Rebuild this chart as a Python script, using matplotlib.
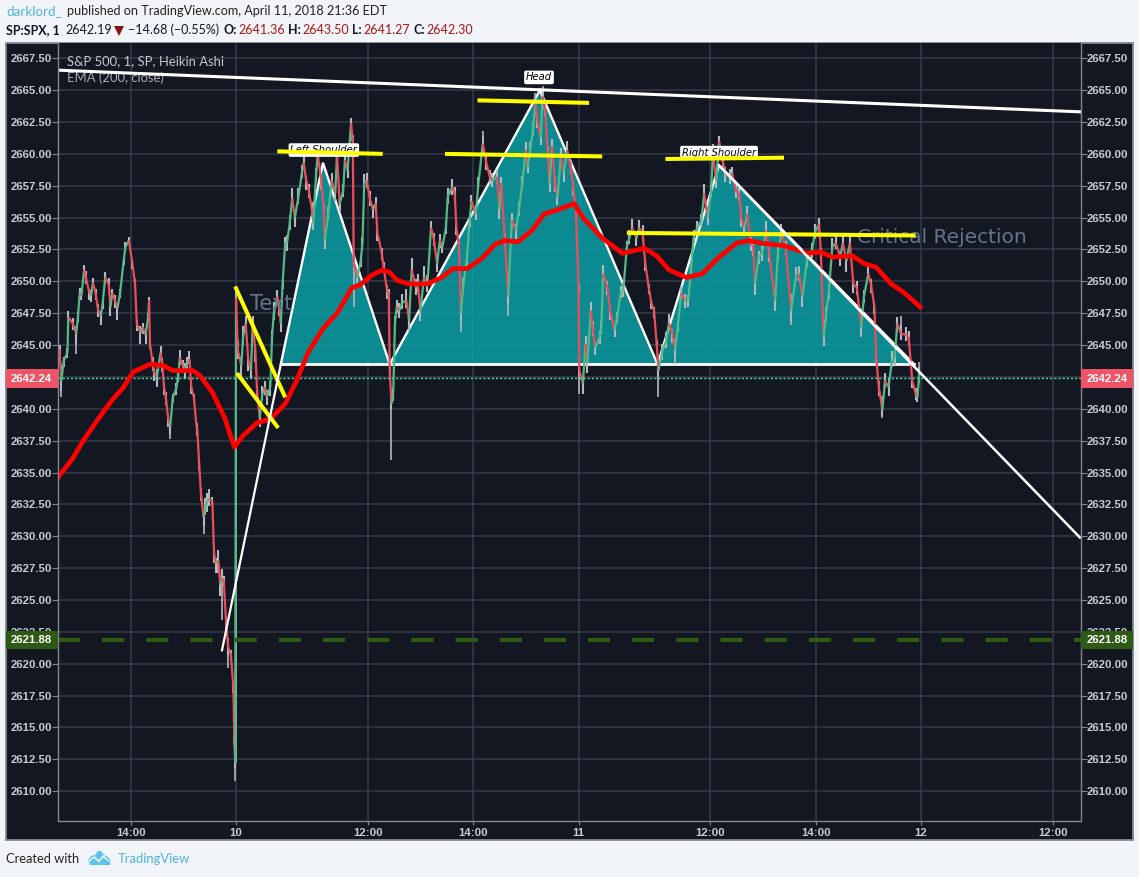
import matplotlib
matplotlib.use("Agg")
import matplotlib.pyplot as plt
from matplotlib.collections import LineCollection
from matplotlib.patches import Rectangle, Polygon
from matplotlib.transforms import blended_transform_factory

# ---------- data (minutes of trading time from the Apr 10 open, prices)
minutes = [-201,-199,-196,-192,-191,-186,-182,-180,-178,-176,-173,-171,-167,-165,-163,-160,-157,-154,-152,-149,
 -145,-143,-141,-138,-135,-132,-128,-126,-122,-118,-115,-113,-109,-106,-103,-100,-99,-98,-95,-93,
 -90,-86,-84,-82,-80,-77,-75,-72,-68,-66,-64,-60,-58,-56,-53,-51,-48,-45,-44,-42,
 -40,-37,-35,-33,-31,-27,-25,-23,-20,-18,-16,-14,-11,-9,-6,-3,-2,-1,0,2,
 6,8,11,14,17,19,22,24,27,30,33,35,39,41,43,47,49,51,53,56,
 58,61,64,67,71,75,77,80,83,86,88,91,93,97,100,101,105,109,113,115,
 118,122,124,127,131,133,134,138,142,144,146,149,152,156,159,161,166,168,172,174,
 175,177,179,181,183,186,189,194,197,200,205,207,210,214,218,222,225,229,232,235,
 239,241,246,249,251,254,256,259,263,266,268,273,276,281,285,289,292,297,300,302,
 306,310,314,319,322,326,330,332,335,338,341,343,347,349,352,355,357,360,363,366,
 370,373,377,381,384,387,390,391,395,398,400,404,406,409,414,416,418,423,426,431,
 434,438,441,445,448,451,456,459,463,466,470,473,476,479,481,485,490,493,497,500,
 503,507,511,515,518,521,525,530,533,537,541,543,547,550,554,557,562,565,569,573,
 575,579,582,586,589,591,595,599,604,607,614,617,621,626,632,638,641,645,650,656,
 659,664,666,669,672,675,679,683,688,691,695,699,703,707,712,715,720,723,727,729,
 732,736,739,743,747,750,753,757,763,766,770,774,776,778]
closes = [2644.7,2642.2,2643.8,2644.4,2647.2,2646.7,2645.9,2647.2,2649.1,2648.9,2650.9,2650.3,2649.1,2648.9,2649.9,2649.1,2647.7,2647.3,2648.2,2650.3,
 2649.8,2648.0,2649.1,2648.5,2647.9,2649.1,2651.6,2652.7,2653.2,2651.4,2649.8,2646.7,2646.0,2646.4,2645.8,2647.2,2648.5,2645.1,2643.6,2642.8,
 2642.5,2644.4,2643.6,2641.7,2640.9,2639.1,2638.6,2640.9,2641.6,2642.5,2644.0,2643.3,2643.0,2643.6,2643.9,2641.7,2640.9,2638.6,2638.3,2635.7,
 2633.4,2631.5,2632.3,2632.8,2632.9,2632.8,2628.6,2627.9,2628.1,2626.2,2626.7,2626.5,2622.9,2621.3,2620.8,2618.1,2614.0,2612.2,2648.7,2644.6,
 2643.4,2645.6,2646.7,2643.8,2643.0,2646.7,2644.6,2641.4,2639.3,2641.2,2641.7,2640.9,2641.7,2645.6,2647.5,2648.8,2648.0,2646.7,2649.8,2653.0,
 2653.0,2654.5,2656.5,2655.0,2656.6,2658.5,2659.3,2657.9,2657.1,2655.8,2654.6,2658.2,2660.0,2657.9,2655.6,2653.2,2655.3,2657.9,2656.9,2660.0,
 2656.1,2657.1,2659.5,2658.7,2662.4,2661.0,2651.4,2650.3,2651.6,2653.0,2657.7,2657.9,2656.6,2655.6,2656.1,2653.8,2652.2,2651.1,2649.3,2649.0,
 2643.0,2640.4,2641.2,2646.7,2648.0,2647.7,2648.3,2648.5,2646.9,2650.9,2649.5,2649.8,2647.7,2650.3,2649.8,2654.2,2653.4,2651.4,2653.2,2652.7,
 2654.2,2656.6,2657.4,2656.9,2654.2,2652.7,2647.5,2649.8,2651.9,2654.8,2656.3,2655.3,2657.7,2660.8,2659.3,2658.2,2657.9,2658.2,2655.6,2657.7,
 2653.4,2648.8,2654.8,2654.0,2655.6,2657.7,2660.3,2659.0,2660.3,2661.9,2664.0,2662.6,2661.3,2664.5,2663.5,2660.1,2657.7,2660.6,2657.7,2656.6,
 2659.8,2658.5,2660.3,2659.0,2657.4,2655.6,2649.5,2643.0,2642.0,2645.1,2643.6,2647.7,2646.4,2644.8,2645.6,2646.4,2650.6,2649.5,2647.7,2646.2,
 2647.2,2649.1,2649.3,2652.7,2653.4,2654.2,2653.4,2654.2,2653.8,2651.4,2649.5,2648.3,2647.7,2645.1,2643.0,2644.4,2645.4,2646.7,2645.9,2644.6,
 2646.4,2649.1,2648.5,2648.5,2650.9,2653.4,2654.2,2654.8,2656.9,2655.0,2657.1,2660.0,2657.9,2661.0,2659.5,2658.5,2658.2,2658.5,2657.1,2656.9,
 2655.0,2654.2,2655.3,2653.0,2652.7,2649.8,2651.9,2652.2,2654.0,2652.2,2648.5,2652.2,2653.8,2652.7,2647.7,2650.6,2650.6,2648.8,2651.6,2652.4,
 2653.8,2654.5,2652.2,2645.6,2647.5,2649.1,2652.7,2653.0,2651.9,2653.0,2651.6,2653.0,2649.8,2649.5,2646.4,2648.8,2650.6,2649.8,2648.0,2644.0,
 2641.7,2639.9,2642.2,2641.7,2643.8,2644.0,2646.7,2645.9,2645.8,2645.6,2642.2,2641.2,2640.9,2642.8]
wick_up = [0.3,0.6,0.3,0.4,0.5,0.4,0.3,0.5,0.4,0.3,0.4,0.5,0.3,0.4,0.4,0.3,0.5,0.4,0.3,0.4,
 0.5,0.4,0.3,0.4,0.3,0.3,0.3,0.4,0.3,0.3,0.4,0.3,0.5,0.3,0.4,0.3,0.3,0.3,0.5,0.4,
 0.6,0.5,0.4,0.3,0.4,0.3,0.4,0.3,0.4,0.4,0.6,0.5,0.6,0.5,0.6,0.4,0.3,0.3,0.3,0.4,
 0.4,0.5,0.7,0.6,0.8,0.3,0.5,0.4,0.8,0.4,0.7,0.4,0.3,0.3,0.3,0.3,0.3,0.3,0.5,0.8,
 0.7,0.9,0.6,0.5,0.4,0.6,0.5,0.4,0.5,0.6,0.5,0.6,0.5,0.6,0.9,0.5,0.4,0.3,0.4,0.5,
 0.6,0.7,0.8,0.6,0.7,0.6,0.5,0.4,0.5,0.4,0.5,0.7,0.8,0.5,0.4,0.5,0.5,0.6,0.5,0.6,
 0.4,0.5,0.6,0.5,0.4,0.5,0.4,0.6,0.5,0.5,0.7,0.6,0.5,0.4,0.5,0.4,0.4,0.4,0.4,0.4,
 0.5,0.5,0.4,0.6,0.5,0.6,0.7,0.9,0.5,0.9,0.7,0.8,0.5,0.9,0.7,0.5,0.4,0.5,0.5,0.4,
 0.5,0.7,0.6,0.5,0.4,0.5,0.4,0.5,0.5,0.6,0.5,0.6,0.5,0.6,0.7,0.5,0.6,0.5,0.6,0.5,
 0.4,0.4,0.6,0.5,0.6,0.6,0.6,0.5,0.6,0.6,0.5,0.5,0.5,0.5,0.4,0.5,0.4,0.6,0.5,0.5,
 0.7,0.5,0.7,0.5,0.4,0.4,0.3,0.3,0.5,0.6,0.6,0.7,0.5,0.4,0.5,0.5,0.7,0.5,0.4,0.3,
 0.4,0.5,0.6,0.5,0.6,0.7,0.5,0.6,0.6,0.4,0.3,0.3,0.3,0.3,0.4,0.7,0.6,0.7,0.4,0.4,
 0.5,0.5,0.5,0.4,0.6,0.6,0.5,0.5,0.7,0.5,0.6,0.8,0.5,0.4,0.4,0.5,0.6,0.5,0.5,0.4,
 0.5,0.4,0.6,0.5,0.5,0.4,0.5,0.6,0.7,0.5,0.4,0.6,0.7,0.5,0.3,0.5,0.6,0.5,0.6,0.6,
 0.7,0.5,0.4,0.3,0.5,0.6,0.7,0.6,0.5,0.6,0.5,0.6,0.4,0.5,0.4,0.5,0.6,0.4,0.4,0.3,
 0.5,0.4,0.6,0.6,0.7,0.6,0.5,0.7,0.6,0.5,0.4,0.4,0.4,0.5]
wick_dn = [0.4,0.8,0.5,0.4,0.5,0.5,0.8,0.4,0.5,0.4,0.5,0.5,0.6,0.5,0.4,0.6,0.5,0.7,0.4,0.5,
 0.5,0.7,0.4,0.6,0.9,0.4,0.3,0.4,0.3,0.4,0.3,0.6,0.9,0.5,0.7,0.4,0.3,0.4,0.6,0.6,
 0.8,0.5,0.7,0.6,0.6,0.5,0.6,0.4,0.5,0.4,0.6,0.5,0.7,0.6,0.4,0.5,0.4,0.4,0.4,0.5,
 0.6,0.7,0.6,0.9,0.5,0.4,0.7,0.8,1.0,0.9,0.6,0.5,0.4,0.6,0.5,0.4,0.4,0.4,0.3,0.7,
 0.9,0.6,0.7,0.8,0.6,0.7,0.9,0.6,0.7,0.5,0.6,0.6,0.7,0.5,0.5,0.6,0.7,0.7,0.4,0.4,
 0.6,0.5,0.6,0.7,0.5,0.4,0.5,0.7,0.6,0.7,0.6,0.4,0.5,0.7,0.8,0.7,0.5,0.4,0.6,0.5,
 0.6,0.5,0.5,0.6,0.4,0.5,0.5,0.4,0.5,0.5,0.5,0.6,0.7,0.6,0.5,0.6,0.5,0.4,0.7,0.6,
 0.4,0.4,0.6,0.5,0.5,0.6,0.5,0.6,0.8,0.5,0.6,0.6,0.8,0.5,0.6,0.5,0.6,0.7,0.6,0.5,
 0.5,0.5,0.6,0.7,0.6,0.6,0.6,0.5,0.6,0.5,0.6,0.5,0.5,0.5,0.6,0.6,0.5,0.6,0.7,0.5,
 0.7,0.6,0.5,0.7,0.5,0.4,0.6,0.5,0.5,0.4,0.5,0.6,0.6,0.4,0.5,0.6,0.7,0.5,0.7,0.6,
 0.5,0.7,0.5,0.6,0.7,0.7,0.4,0.4,0.8,0.5,0.8,0.5,0.7,0.6,0.5,0.5,0.4,0.6,0.7,0.6,
 0.5,0.4,0.5,0.4,0.5,0.5,0.6,0.5,0.6,0.6,0.5,0.5,0.6,0.5,0.5,0.6,0.6,0.5,0.7,0.5,
 0.4,0.5,0.6,0.5,0.4,0.5,0.4,0.5,0.5,0.6,0.5,0.4,0.6,0.4,0.6,0.7,0.6,0.5,0.6,0.6,
 0.7,0.5,0.5,0.6,0.7,0.9,0.5,0.6,0.4,0.7,0.8,0.5,0.4,0.6,0.9,0.5,0.6,0.8,0.5,0.6,
 0.5,0.4,0.6,0.7,0.6,0.5,0.4,0.5,0.7,0.5,0.9,0.5,0.7,0.6,0.7,0.5,0.4,0.7,0.6,0.5,
 0.7,0.5,0.6,0.7,0.5,0.6,0.4,0.5,0.5,0.6,0.6,0.5,0.4,0.4]
spike_min = [-199,-182,-75,-37,-16,-9,-1,0,131,134,177,256,281,310,341,349,391,481,500,550,632,664,669,712,736,753,757,778]
spike_low = [2640.9,2644.3,2637.6,2630.2,2623.4,2619.7,2610.8,2612.2,2661.0,2648.0,2636.0,2646.0,2660.0,2647.3,2663.0,2663.5,2641.2,2640.9,2643.5,2660.0,2646.6,2653.5,2645.0,2645.6,2639.3,2646.0,2645.5,2642.0]
spike_high = [2643.5,2646.5,2639.0,2632.0,2627.0,2622.0,2613.0,2649.6,2662.8,2652.0,2641.0,2648.0,2661.8,2650.0,2664.8,2665.3,2644.0,2644.0,2645.5,2661.3,2649.0,2655.0,2647.0,2647.5,2641.0,2647.2,2647.3,2643.7]

ema_min = [-204,-186,-174,-158,-141,-128,-117,-98,-83,-72,-49,-41,-27,-13,-2,8,24,39,56,69,82,99,115,132,141,155,167,175,183,196,218,234,247,263,280,295,306,321,337,351,366,385,395,417,440,465,479,493,513,531,550,570,584,598,624,650,666,679,702,715,729,746,761,779]
ema_val = [2634.5,2636.1,2637.5,2639.1,2640.7,2641.7,2642.9,2643.5,2643.4,2643.0,2643.0,2642.6,2641.3,2639.3,2637.0,2637.9,2638.9,2639.2,2640.4,2642.2,2644.4,2646.3,2647.5,2649.5,2649.7,2650.5,2650.9,2650.7,2650.1,2649.8,2649.8,2650.3,2651.0,2651.0,2651.8,2652.9,2653.2,2653.1,2654.0,2655.3,2655.6,2656.1,2655.0,2653.4,2652.2,2652.6,2652.0,2650.9,2650.3,2650.6,2651.9,2653.0,2653.2,2653.0,2652.8,2652.2,2652.3,2651.9,2652.0,2651.4,2651.1,2649.8,2649.1,2648.0]

pattern_min = [51,99,175,346,480,550,772]
pattern_val = [2643.5,2659.3,2643.5,2665.0,2643.5,2659.1,2643.5]
top_line_min = [-200,961]
top_line_val = [2666.56,2663.3]
rise_line_min = [-16,51]
rise_line_val = [2621.05,2643.5]
fall_line_min = [550,961]
fall_line_val = [2659.1,2629.9]
yellow_min = [[47,167],[238,417],[275,402],[489,624],[445,774],[-1,56],[1,48]]
yellow_val = [[2660.2,2660.0],[2660.0,2659.8],[2664.2,2664.0],[2659.6,2659.7],[2653.8,2653.6],[2649.6,2640.9],[2642.8,2638.5]]

last_label = 2642.24
last_level = 2642.42
support_price = 2621.88
y_ticks = [2610+2.5*i for i in range(24)]
x_tick_min = [-120,0,150,270,390,540,660,780,930]
x_tick_labels = ["14:00","10","12:00","14:00","11","12:00","14:00","12","12:00"]

# ---------- figure
W, H = 1139, 877
plt.rcParams['font.family'] = ['Liberation Sans', 'DejaVu Sans']
fig = plt.figure(figsize=(W/100, H/100), dpi=100, facecolor='#f1f5f9')
def fx(x): return x/W
def fy(y): return 1-y/H

BG = '#131722'
frame = Rectangle((fx(6), fy(840)), (1133-6)/W, (840-43)/H, transform=fig.transFigure,
                  facecolor=BG, edgecolor='#84878d', lw=1.3, zorder=-1)
fig.patches.append(frame)

ax = fig.add_axes([fx(57.5), fy(821), (1081-57.5)/W, (821-43)/H])
ax.set_facecolor(BG)
ax.set_xlim(-203.3, 962.2)
ax.set_ylim(2607.66, 2668.7)
ax.spines['top'].set_visible(False)
for s in ['left','right','bottom']:
    ax.spines[s].set_color('#84878d'); ax.spines[s].set_linewidth(1.0)
ax.set_axisbelow('line')
ax.grid(True, color='#363a49', lw=1.1)
ax.set_yticks(y_ticks)
ax.set_yticklabels([f"{v:.2f}" if v != 2642.5 else "" for v in y_ticks])
ax.set_xticks(x_tick_min)
ax.set_xticklabels(x_tick_labels)
ax.tick_params(axis='y', left=True, right=True, labelleft=True, labelright=True, length=4,
               color='#84878d', labelcolor='#c9cbd0', labelsize=8.2, pad=0)
ax.tick_params(axis='x', length=3, color='#84878d', labelcolor='#c9cbd0', labelsize=8.2, pad=2)
for t in ax.yaxis.get_major_ticks() + ax.xaxis.get_major_ticks():
    t.label1.set_fontweight('bold'); t.label2.set_fontweight('bold')

# pattern
ax.add_patch(Polygon(list(zip(pattern_min, pattern_val)), closed=True, facecolor='#0a9fa6', alpha=0.85,
                     edgecolor='none', zorder=1.7))
ax.plot(pattern_min, pattern_val, color='white', lw=1.7, zorder=2.05, solid_joinstyle='miter')
ax.plot([pattern_min[0], pattern_min[-1]], [pattern_val[0], pattern_val[-1]], color='white', lw=2.0, zorder=2.05)

# price action
ax.vlines(minutes, [c-d for c,d in zip(closes, wick_dn)], [c+u for c,u in zip(closes, wick_up)],
          color='#b4b7bd', lw=1.5, zorder=2.1)
ax.vlines(spike_min, spike_low, spike_high, color='#b4b7bd', lw=1.2, zorder=2.1)
segs, cols = [], []
for i in range(1, len(minutes)):
    segs.append([(minutes[i-1], closes[i-1]), (minutes[i], closes[i])])
    cols.append('#53b987' if closes[i] >= closes[i-1] else '#eb4d5c')
ax.add_collection(LineCollection(segs, colors=cols, linewidths=1.6, zorder=2.2))

ax.axhline(last_level, color='#4be0a0', lw=1, ls=(0, (1.5, 1.5)), zorder=2.25)
ax.axhline(support_price, color='#2f5a15', lw=3, ls=(0, (5.3, 5.3)), zorder=2.25)

# labels under the yellow lines
bubble = dict(boxstyle='round,pad=0.18', fc='white', ec='none')
for m, p, s in [(100, 2660.3, 'Left Shoulder'), (345, 2666.0, 'Head'), (550, 2660.1, 'Right Shoulder')]:
    ax.text(m, p, s, ha='center', va='center', fontsize=7.2, style='italic', color='black', family='DejaVu Sans',
            bbox=bubble, zorder=2.3)
ax.text(16, 2648.2, 'Text', color='#64748a', fontsize=15, va='center', family='DejaVu Sans', zorder=2.3)
ax.text(707, 2653.45, 'Critical Rejection', color='#64748a', fontsize=14.5, va='center', family='DejaVu Sans', zorder=2.3)

ax.plot(ema_min, ema_val, color='#ff0000', lw=3.4, zorder=2.4, solid_joinstyle='round')
for xs, ys in zip(yellow_min, yellow_val):
    ax.plot(xs, ys, color='#ffff00', lw=2.9, zorder=2.45, solid_capstyle='butt')
ax.plot(top_line_min, top_line_val, color='white', lw=2.2, zorder=2.5)
ax.plot(rise_line_min, rise_line_val, color='white', lw=1.6, zorder=2.5)
ax.plot(fall_line_min, fall_line_val, color='white', lw=1.8, zorder=2.5)

# price boxes on both scales
tr = blended_transform_factory(ax.transAxes, ax.transData)
axw = 1081-57.5
for level, label, col in [(last_level-0.05, last_label, '#ef5366'), (support_price, support_price, '#2f5a15')]:
    for x0, x1 in [(6, 57.5), (1081, 1133)]:
        ax.add_patch(Rectangle(((x0-57.5)/axw, level-0.72), (x1-x0)/axw, 1.44, transform=tr, facecolor=col,
                               edgecolor='none', clip_on=False, zorder=5))
    ax.text((52-57.5)/axw, level, f"{label:.2f}", transform=tr, ha='right', va='center', color='white',
            fontsize=8.2, fontweight='bold', zorder=6)
    ax.text((1087-57.5)/axw, level, f"{label:.2f}", transform=tr, ha='left', va='center', color='white',
            fontsize=8.2, fontweight='bold', zorder=6)

# legend inside the pane
NS = ['Lato', 'DejaVu Sans']
ax.text(fx(67), fy(61), 'S&P 500, 1, SP, Heikin Ashi', transform=fig.transFigure, color='#c6c8cc', fontsize=9.4,
        va='center', family=NS, zorder=2.3)
ax.text(fx(67), fy(78), 'EMA (200, close)', transform=fig.transFigure, color='#a9abb0', fontsize=9.4,
        va='center', family=NS, zorder=2.3)

# header
fig.text(fx(6), fy(11), 'darklord_', color='#4db2e3', fontsize=9.6, va='center', family=NS)
fig.text(fx(67), fy(11), 'published on TradingView.com, April 11, 2018 21:36 EDT', color='#222', fontsize=9.05, va='center', family=NS)
row = [(6,'SP:SPX, 1','bold','#131722'),(65,'2642.19','normal','#131722'),(128,'\u221214.68 (\u22120.55%)','normal','#131722'),
       (224,'O:','bold','#131722'),(238,'2641.36','normal','#b01515'),(288,'H:','bold','#131722'),(302,'2643.50','normal','#b01515'),
       (352,'L:','bold','#131722'),(363,'2641.27','normal','#b01515'),(413,'C:','bold','#131722'),(426,'2642.30','normal','#b01515')]
for x, s, w, c in row:
    fig.text(fx(x), fy(30), s, color=c, fontsize=9.0, fontweight=w, va='center', family=NS)
fig.patches.append(Polygon([(fx(114),fy(26)),(fx(124),fy(26)),(fx(119),fy(36))], closed=True, transform=fig.transFigure,
                           facecolor='#8b1212', edgecolor='none'))

# footer
fig.text(fx(6), fy(859), 'Created with', color='#222', fontsize=9.3, va='center', family=NS)
fig.text(fx(118), fy(859), 'TradingView', color='#4db2e3', fontsize=9.4, va='center', family=NS)
cloud = [(88,860),(91,856),(95,855),(98,851),(101,851),(104,855),(108,857),(111,861),(110,865),(90,865)]
fig.patches.append(Polygon([(fx(a),fy(b)) for a,b in cloud], closed=True, transform=fig.transFigure,
                           facecolor='#5fc4ea', edgecolor='none'))
zig = [(88,861),(94,856),(99,860),(103,855),(111,862),(111,863),(103,857.5),(99,862.5),(94,858),(88,863)]
fig.patches.append(Polygon([(fx(a),fy(b)) for a,b in zig], closed=True, transform=fig.transFigure,
                           facecolor='#f1f5f9', edgecolor='none'))

fig.savefig('out.png', dpi=100, facecolor=fig.get_facecolor())
